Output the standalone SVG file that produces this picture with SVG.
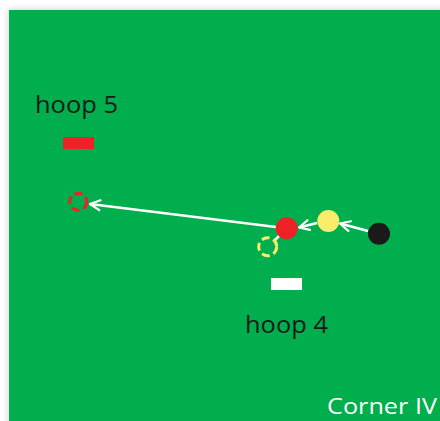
<svg xmlns="http://www.w3.org/2000/svg" width="440" height="421" viewBox="0 0 440 421">
<defs>
<filter id="sh" x="-10%" y="-10%" width="120%" height="120%"><feGaussianBlur stdDeviation="3"/></filter>
<marker id="ah" viewBox="0 0 12 12" refX="11" refY="6" markerWidth="12" markerHeight="12" markerUnits="userSpaceOnUse" orient="auto" overflow="visible">
<polyline points="1,1 11,6 1,11" fill="none" stroke="#ffffff" stroke-width="2.2" stroke-linecap="round" stroke-linejoin="round"/>
</marker>
</defs>
<style>
.lbl{font-family:"Open Sans","Liberation Sans",sans-serif;font-size:24px;fill:#1a1a1a}
.cn{font-family:"Open Sans","Liberation Sans",sans-serif;font-size:22px;fill:#fff}
.con{stroke:#fff;stroke-width:2.5;fill:none}
</style>
<rect width="440" height="421" fill="#fff"/>
<rect x="8" y="9" width="440" height="420" fill="#888" opacity="0.35" filter="url(#sh)"/>
<rect id="field" x="9" y="10" width="431" height="411" fill="#00AE4D"/>
<g id="connectors">
<line class="con" x1="276" y1="227" x2="90" y2="204" marker-end="url(#ah)"/>
<line class="con" x1="317" y1="223" x2="299" y2="227.5" marker-end="url(#ah)"/>
<line class="con" x1="368" y1="231" x2="340" y2="223.5" marker-end="url(#ah)"/>
<line class="con" x1="279" y1="236" x2="275" y2="240"/>
</g>
<g id="hoop5">
<text class="lbl" x="35" y="113" textLength="83" lengthAdjust="spacingAndGlyphs">hoop 5</text>
<rect x="63" y="137" width="31" height="12" fill="#EE2127"/>
</g>
<g id="hoop4">
<rect x="271" y="278" width="31" height="12" fill="#fff"/>
<text class="lbl" x="245" y="333" textLength="83" lengthAdjust="spacingAndGlyphs">hoop 4</text>
</g>
<g id="red-target"><circle cx="78.3" cy="201.7" r="8.5" fill="none" stroke="#EE2127" stroke-width="3" stroke-dasharray="8,4"/></g>
<g id="yellow-target"><circle cx="267.7" cy="246.7" r="9" fill="none" stroke="#F8EC6A" stroke-width="3" stroke-dasharray="8,4"/></g>
<g id="red-ball"><circle cx="286.7" cy="228.3" r="11" fill="#EE2127"/></g>
<g id="yellow-ball"><circle cx="328.3" cy="221" r="11" fill="#F8EC6A"/></g>
<g id="black-ball"><circle cx="379" cy="233.7" r="11" fill="#1a1a1a"/></g>
<text class="cn" x="327" y="414" textLength="110" lengthAdjust="spacingAndGlyphs">Corner IV</text>
</svg>
